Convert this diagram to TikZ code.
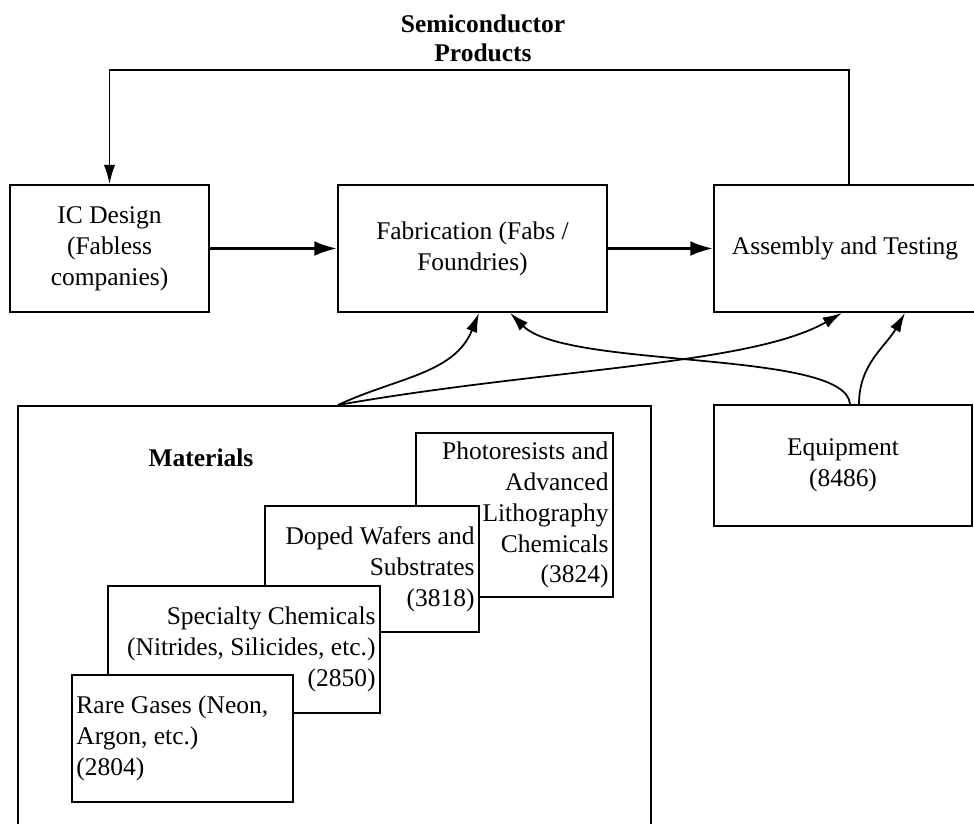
\documentclass[tikz,border=0pt]{standalone}
\usepackage{fontspec}
\setmainfont{Liberation Serif}
\usetikzlibrary{arrows.meta}

\begin{document}
\begin{tikzpicture}[x=0.2mm,y=-0.2mm,
    font=\fontsize{14.5}{17.6}\selectfont,
    box/.style={draw,line width=1pt,fill=white,inner xsep=0.9mm,inner ysep=0pt},
    link/.style={-{Latex[length=11pt,width=6.5pt]},line width=1pt},
    flow/.style={-{Latex[length=13pt,width=8.5pt]},line width=1.8pt}]
  \clip (0,0) rectangle (974,824);

  \node[font=\fontsize{14.5}{16.6}\selectfont\bfseries,align=center] (title) at (483,38) {Semiconductor\\Products};

  \node[box,minimum width=39.8mm,minimum height=25.4mm,align=center] (icdesign) at (109.5,248.5) {IC Design\\(Fabless\\companies)};
  \node[box,minimum width=53.8mm,minimum height=25.4mm,align=center] (fab) at (472.5,248.5) {Fabrication (Fabs /\\Foundries)};
  \node[box,minimum width=52.4mm,minimum height=25.4mm,align=center] (assembly) at (845,248.5) {Assembly and Testing};

  \node[box,anchor=north,minimum width=126.6mm,minimum height=90mm] (materials) at (334.5,405) {};
  \node[font=\fontsize{14.5}{17.6}\selectfont\bfseries] (matlabel) at (201,458) {Materials};
  \node[box,text width=37.6mm,minimum height=32.8mm,align=flush right] (photo) at (514.5,515) {Photoresists and\\Advanced\\Lithography\\Chemicals\\(3824)};
  \node[box,text width=41mm,minimum height=25.2mm,align=flush right] (wafers) at (372,569) {Doped Wafers and\\Substrates\\(3818)};
  \node[box,text width=52.6mm,minimum height=25.4mm,align=flush right] (chem) at (244,649.5) {Specialty Chemicals\\(Nitrides, Silicides, etc.)\\(2850)};
  \node[box,text width=42.4mm,minimum height=25.4mm,align=flush left] (gases) at (182.5,738.5) {Rare Gases (Neon,\\Argon, etc.)\\(2804)};

  \node[box,minimum width=51.6mm,minimum height=24.2mm,align=center] (equip) at (843,465.5) {Equipment\\(8486)};

  \draw[flow] (icdesign) -- (fab);
  \draw[flow] (fab) -- (assembly);
  \draw[link] ([xshift=0.8mm]assembly.north) -- ++(0,-114) -| (icdesign.north);

  \draw[link] ([xshift=0.7mm]materials.north) to[out=25,in=-112] ([xshift=1.3mm]fab.south);
  \draw[link] ([xshift=0.7mm]materials.north) to[out=10,in=-150,out distance=42mm,in distance=21mm] ([xshift=-0.6mm]assembly.south);
  \draw[link] ([xshift=1.4mm]equip.north) to[out=94,in=-45,out distance=11mm,in distance=16mm] ([xshift=7.5mm]fab.south);
  \draw[link] ([xshift=3.2mm]equip.north) to[out=90,in=-120] ([xshift=12mm]assembly.south);
\end{tikzpicture}
\end{document}
